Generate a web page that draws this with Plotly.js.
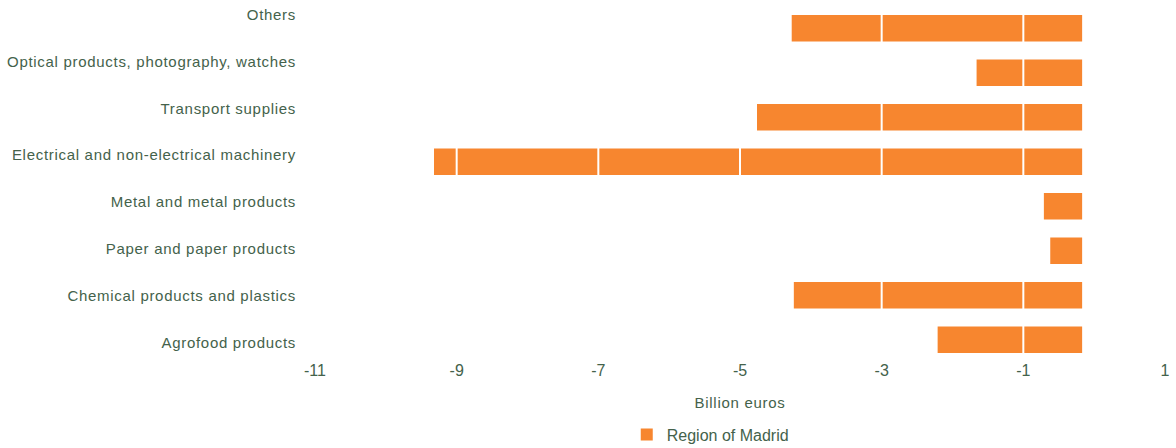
<!DOCTYPE html>
<html>
<head>
<meta charset="utf-8">
<script src="https://cdn.plot.ly/plotly-3.0.1.min.js"></script>
<style>
html,body{margin:0;padding:0;background:#fff;}
#chart{width:1176px;height:448px;}
#chart .y2tick text{letter-spacing:0.7px;}
#chart .xtitle{letter-spacing:0.7px;}
</style>
</head>
<body>
<div id="chart"></div>
<script>
// Categories, bottom to top
const categories = [
  "Agrofood products",
  "Chemical products and plastics",
  "Paper and paper products",
  "Metal and metal products",
  "Electrical and non-electrical machinery",
  "Transport supplies",
  "Optical products, photography, watches",
  "Others"
];
// Region of Madrid, billion euros (left end of each bar)
const madridValues = [-2.21, -4.24, -0.62, -0.71, -9.32, -4.76, -1.66, -4.27];
// Bars start slightly left of zero in the original
const barBase = -0.17;
const xTicks = [-11, -9, -7, -5, -3, -1, 1];
const xTickLabels = ["-11", "-9", "-7", "-5", "-3", "-1", "1"];
const seriesName = "Region of Madrid";
const xTitle = "Billion euros";

const textColor = "#44624b";
const barColor = "#f7862f";
const font = "Liberation Sans, Arial, sans-serif";
const narrowFont = "Liberation Sans Narrow, Arial Narrow, Liberation Sans, Arial, sans-serif";
const fs = 15;

const traces = [
  {
    type: "bar",
    orientation: "h",
    name: seriesName,
    y: categories,
    x: madridValues.map(v => v - barBase),
    base: barBase,
    marker: {color: barColor},
    xaxis: "x",
    yaxis: "y",
    hoverinfo: "skip"
  },
  {
    type: "scatter",
    mode: "markers",
    y: categories,
    x: madridValues,
    marker: {opacity: 0},
    xaxis: "x",
    yaxis: "y2",
    showlegend: false,
    hoverinfo: "skip"
  }
];

const gridShapes = xTicks.map(t => ({
  type: "line", xref: "x", yref: "paper",
  x0: t, x1: t, y0: 0, y1: 1,
  line: {color: "#ffffff", width: 2},
  layer: "above"
}));

const layout = {
  width: 1176, height: 448,
  margin: {l: 315, r: 11, t: 6, b: 86, autoexpand: false},
  paper_bgcolor: "#ffffff",
  plot_bgcolor: "#ffffff",
  font: {family: font, size: fs, color: textColor},
  bargap: 0.4,
  showlegend: true,
  xaxis: {
    range: [-11, 1],
    tickvals: xTicks,
    ticktext: xTickLabels,
    ticks: "",
    ticklabelstandoff: -3,
    showgrid: false,
    zeroline: false,
    showline: false,
    tickfont: {family: narrowFont, size: 16, color: textColor},
    title: {text: xTitle, standoff: 19, font: {family: font, size: fs, color: textColor}}
  },
  yaxis: {
    type: "category",
    range: [-0.5, 7.5],
    showticklabels: false,
    ticks: "",
    showgrid: false,
    zeroline: false,
    showline: false
  },
  yaxis2: {
    type: "category",
    overlaying: "y",
    side: "left",
    range: [-0.41, 7.18],
    ticks: "",
    ticklabelstandoff: 18,
    showgrid: false,
    zeroline: false,
    showline: false,
    tickfont: {family: font, size: fs, color: textColor}
  },
  legend: {
    orientation: "h",
    x: 0.465, xanchor: "center",
    y: -0.204, yanchor: "middle",
    font: {family: font, size: 16, color: textColor}
  },
  shapes: gridShapes
};

Plotly.newPlot("chart", traces, layout, {displayModeBar: false, staticPlot: true});
</script>
</body>
</html>
